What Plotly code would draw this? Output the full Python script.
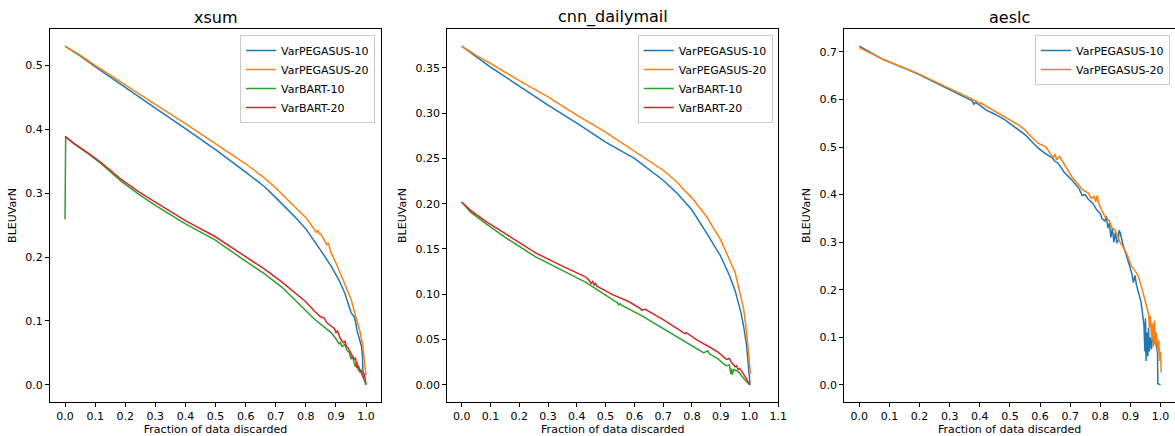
import plotly.graph_objects as go

# ---------------- data ----------------
# xsum
xsum_peg10_x = [0.0, 0.05, 0.1, 0.2, 0.3, 0.4, 0.5, 0.6, 0.663, 0.7, 0.773, 0.8, 0.829, 0.85, 0.884, 0.91, 0.93,
                0.95, 0.96, 0.965, 0.97, 0.975, 0.98, 0.985, 0.988, 0.99, 0.995, 1.0]
xsum_peg10_y = [0.530, 0.515, 0.498, 0.465, 0.433, 0.401, 0.368, 0.333, 0.310, 0.293, 0.2585, 0.244, 0.2247, 0.210,
                0.1857, 0.164, 0.143, 0.113, 0.107, 0.099, 0.085, 0.075, 0.066, 0.060, 0.045, 0.020, 0.016, 0.017]

xsum_peg20_x = [0.0, 0.05, 0.1, 0.2, 0.3, 0.4, 0.5, 0.6, 0.663, 0.7, 0.773, 0.8, 0.829, 0.835, 0.84, 0.845, 0.85,
                0.86, 0.87, 0.875, 0.884, 0.9, 0.915, 0.93, 0.95, 0.96, 0.972, 0.98, 0.989, 0.995, 1.0]
xsum_peg20_y = [0.530, 0.516, 0.500, 0.469, 0.439, 0.409, 0.378, 0.346, 0.3235, 0.308, 0.274, 0.262, 0.243, 0.238,
                0.242, 0.236, 0.236, 0.228, 0.219, 0.221, 0.2065, 0.191, 0.175, 0.157, 0.134, 0.118, 0.097, 0.083,
                0.061, 0.040, 0.015]

xsum_bart10_x = [0.0, 0.002, 0.03, 0.077, 0.12, 0.188, 0.243, 0.3, 0.4, 0.497, 0.58, 0.663, 0.72, 0.773, 0.829,
                 0.884, 0.9, 0.91, 0.915, 0.92, 0.93, 0.935, 0.945, 0.95, 0.955, 0.96, 0.965, 0.97, 0.975, 0.98,
                 0.985, 0.99, 1.0]
xsum_bart10_y = [0.259, 0.388, 0.377, 0.362, 0.346, 0.318, 0.299, 0.281, 0.252, 0.2273, 0.200, 0.1735, 0.153,
                 0.1285, 0.1025, 0.0817, 0.072, 0.064, 0.066, 0.060, 0.063, 0.055, 0.050, 0.040, 0.045, 0.035,
                 0.028, 0.036, 0.022, 0.024, 0.018, 0.015, 0.0]

xsum_bart20_x = [0.0, 0.03, 0.077, 0.12, 0.188, 0.243, 0.3, 0.4, 0.497, 0.58, 0.663, 0.72, 0.773, 0.8, 0.829, 0.85,
                 0.86, 0.87, 0.884, 0.895, 0.9, 0.905, 0.915, 0.925, 0.93, 0.935, 0.94, 0.95, 0.955, 0.96, 0.965,
                 0.97, 0.975, 0.98, 0.985, 0.99, 0.995, 1.0]
xsum_bart20_y = [0.389, 0.378, 0.3625, 0.348, 0.321, 0.3027, 0.286, 0.257, 0.2325, 0.207, 0.181, 0.161, 0.140,
                 0.130, 0.115, 0.106, 0.105, 0.097, 0.092, 0.088, 0.082, 0.084, 0.072, 0.066, 0.068, 0.060, 0.058,
                 0.048, 0.045, 0.040, 0.042, 0.026, 0.030, 0.020, 0.022, 0.012, 0.015, 0.0]

# cnn_dailymail
cnn_peg10_x = [0.0, 0.05, 0.1, 0.2, 0.3, 0.4, 0.48, 0.49, 0.5, 0.6, 0.7, 0.75, 0.8, 0.85, 0.9, 0.93, 0.95, 0.97,
               0.98, 0.99, 0.995, 1.0, 1.002]
cnn_peg10_y = [0.374, 0.362, 0.351, 0.330, 0.309, 0.289, 0.2725, 0.2695, 0.268, 0.250, 0.226, 0.211, 0.193,
               0.168, 0.142, 0.121, 0.104, 0.080, 0.064, 0.043, 0.025, 0.005, 0.0]

cnn_peg20_x = [0.0, 0.05, 0.1, 0.2, 0.3, 0.4, 0.5, 0.58, 0.6, 0.7, 0.75, 0.77, 0.8, 0.85, 0.9, 0.93, 0.95, 0.97,
               0.98, 0.99, 0.995, 1.0, 1.003]
cnn_peg20_y = [0.374, 0.364, 0.355, 0.336, 0.318, 0.298, 0.279, 0.262, 0.2585, 0.237, 0.2235, 0.216, 0.2065,
               0.186, 0.160, 0.139, 0.124, 0.097, 0.083, 0.058, 0.040, 0.014, 0.012]

cnn_bart10_x = [0.0, 0.03, 0.084, 0.15, 0.257, 0.35, 0.43, 0.5225, 0.54, 0.545, 0.55, 0.555, 0.6, 0.638, 0.645,
                0.7, 0.753, 0.8, 0.83, 0.84, 0.845, 0.855, 0.86, 0.8917, 0.91, 0.92, 0.93, 0.935, 0.937, 0.94,
                0.945, 0.95, 0.96, 0.972, 0.985, 1.001]
cnn_bart10_y = [0.2018, 0.191, 0.178, 0.163, 0.1413, 0.126, 0.1134, 0.0943, 0.0907, 0.0885, 0.0895, 0.088, 0.081,
                0.0742, 0.0725, 0.062, 0.0522, 0.0435, 0.0375, 0.0355, 0.036, 0.0375, 0.0345, 0.0283, 0.023,
                0.021, 0.022, 0.012, 0.018, 0.011, 0.017, 0.016, 0.015, 0.0099, 0.005, 0.0]

cnn_bart20_x = [0.0, 0.03, 0.084, 0.15, 0.257, 0.35, 0.43, 0.44, 0.45, 0.455, 0.46, 0.465, 0.47, 0.5225, 0.58,
                0.62, 0.625, 0.638, 0.7, 0.753, 0.77, 0.775, 0.78, 0.8225, 0.86, 0.8917, 0.92, 0.93, 0.9377, 0.95,
                0.955, 0.96, 0.965, 0.972, 0.985, 1.001]
cnn_bart20_y = [0.2018, 0.193, 0.1805, 0.167, 0.1457, 0.131, 0.1193, 0.1165, 0.112, 0.114, 0.110, 0.112, 0.109,
                0.0998, 0.092, 0.0845, 0.0825, 0.0833, 0.072, 0.0613, 0.058, 0.0565, 0.0575, 0.0484, 0.042,
                0.0357, 0.028, 0.029, 0.0246, 0.020, 0.021, 0.017, 0.018, 0.0154, 0.009, 0.0]

# aeslc
aes_peg10_x = [0.0, 0.08, 0.19, 0.3, 0.36, 0.375, 0.38, 0.385, 0.4, 0.42, 0.45, 0.4836, 0.517, 0.55, 0.594, 0.62,
               0.64, 0.6495, 0.66, 0.68, 0.705, 0.73, 0.74, 0.75, 0.76, 0.775, 0.788, 0.8, 0.805, 0.815, 0.82,
               0.825, 0.83, 0.835, 0.84, 0.845, 0.85, 0.855, 0.86, 0.862, 0.866, 0.875, 0.89, 0.904, 0.91, 0.915,
               0.92, 0.926, 0.935, 0.94, 0.945, 0.948, 0.95, 0.952, 0.955, 0.958, 0.96, 0.963, 0.966, 0.97,
               0.974, 0.978, 0.982, 0.986, 0.99, 0.991, 1.0]
aes_peg10_y = [0.712, 0.684, 0.655, 0.620, 0.600, 0.597, 0.590, 0.594, 0.588, 0.578, 0.569, 0.557, 0.5415, 0.526,
               0.4976, 0.485, 0.478, 0.470, 0.466, 0.447, 0.431, 0.412, 0.398, 0.400, 0.390, 0.382, 0.368, 0.360,
               0.350, 0.344, 0.355, 0.330, 0.340, 0.310, 0.330, 0.300, 0.320, 0.298, 0.305, 0.325, 0.320, 0.295,
               0.265, 0.2355, 0.215, 0.230, 0.210, 0.194, 0.175, 0.150, 0.125, 0.070, 0.140, 0.050, 0.110,
               0.060, 0.120, 0.070, 0.100, 0.075, 0.110, 0.085, 0.100, 0.080, 0.070, 0.002, 0.0]

aes_peg20_x = [0.0, 0.08, 0.19, 0.3, 0.378, 0.39, 0.395, 0.4, 0.41, 0.4836, 0.517, 0.53, 0.55, 0.57, 0.594, 0.62,
               0.635, 0.645, 0.65, 0.655, 0.665, 0.675, 0.705, 0.74, 0.76, 0.77, 0.78, 0.785, 0.79, 0.795, 0.815,
               0.83, 0.838, 0.849, 0.865, 0.882, 0.904, 0.915, 0.926, 0.935, 0.948, 0.955, 0.96, 0.963, 0.966,
               0.97, 0.973, 0.976, 0.98, 0.983, 0.986, 0.99, 0.994, 0.997, 1.0, 1.002]
aes_peg20_y = [0.709, 0.684, 0.656, 0.623, 0.599, 0.596, 0.592, 0.594, 0.590, 0.5625, 0.550, 0.546, 0.536, 0.522,
               0.508, 0.500, 0.485, 0.478, 0.485, 0.473, 0.480, 0.470, 0.438, 0.411, 0.403, 0.392, 0.396, 0.385,
               0.398, 0.380, 0.354, 0.345, 0.330, 0.326, 0.300, 0.284, 0.249, 0.240, 0.2285, 0.210, 0.180, 0.165,
               0.150, 0.120, 0.145, 0.100, 0.130, 0.080, 0.135, 0.085, 0.110, 0.070, 0.095, 0.050, 0.070, 0.026]

panel_titles = ["xsum", "cnn_dailymail", "aeslc"]
series_names = ["VarPEGASUS-10", "VarPEGASUS-20", "VarBART-10", "VarBART-20"]
colors = ["#1f77b4", "#ff7f0e", "#2ca02c", "#d62728"]
x_title = "Fraction of data discarded"
y_title = "BLEUVarN"

panels = [
    [(xsum_peg10_x, xsum_peg10_y), (xsum_peg20_x, xsum_peg20_y), (xsum_bart10_x, xsum_bart10_y), (xsum_bart20_x, xsum_bart20_y)],
    [(cnn_peg10_x, cnn_peg10_y), (cnn_peg20_x, cnn_peg20_y), (cnn_bart10_x, cnn_bart10_y), (cnn_bart20_x, cnn_bart20_y)],
    [(aes_peg10_x, aes_peg10_y), (aes_peg20_x, aes_peg20_y)],
]

W, H = 1175, 436
FONT = "DejaVu Sans"

x_domains = [[50 / W, 381 / W], [447.3 / W, 778.3 / W], [844.3 / W, 1.0]]
y_domain = [1 - 401.7 / H, 1 - 29.3 / H]
x_ranges = [[-0.05, 1.0497], [-0.05, 1.1], [-0.05, 1.048]]
y_ranges = [[-0.0265, 0.5565], [-0.0187, 0.3927], [-0.0356, 0.7476]]
y_dticks = [0.1, 0.05, 0.1]
y_formats = [".1f", ".2f", ".1f"]
legend_x = [375 / W, 772.7 / W, 1170 / W]

fig = go.Figure()
for p, series in enumerate(panels):
    suffix = "" if p == 0 else str(p + 1)
    for s, (xs, ys) in enumerate(series):
        fig.add_trace(go.Scatter(
            x=xs, y=ys, mode="lines", name=series_names[s],
            line=dict(color=colors[s], width=1.5),
            xaxis="x" + suffix, yaxis="y" + suffix,
            legend="legend" + suffix, showlegend=True,
        ))

layout = dict(
    width=W, height=H,
    margin=dict(l=0, r=0, t=0, b=0),
    paper_bgcolor="white", plot_bgcolor="white",
    font=dict(family=FONT, size=11, color="black"),
    annotations=[],
)
for p in range(3):
    suffix = "" if p == 0 else str(p + 1)
    layout["xaxis" + suffix] = dict(
        domain=x_domains[p], range=x_ranges[p], anchor="y" + suffix,
        tickmode="linear", tick0=0, dtick=0.1, tickformat=".1f",
        showline=True, mirror=True, linecolor="black", linewidth=1,
        ticks="outside", ticklen=4, tickwidth=1, tickcolor="black",
        showgrid=False, zeroline=False, automargin=False,
        tickfont=dict(family=FONT, size=11, color="black"),
        title=dict(text=x_title, standoff=3, font=dict(family=FONT, size=11, color="black")),
    )
    layout["yaxis" + suffix] = dict(
        domain=y_domain, range=y_ranges[p], anchor="x" + suffix,
        tickmode="linear", tick0=0, dtick=y_dticks[p], tickformat=y_formats[p],
        showline=True, mirror=True, linecolor="black", linewidth=1,
        ticks="outside", ticklen=4, tickwidth=1, tickcolor="black",
        showgrid=False, zeroline=False, automargin=False,
        tickfont=dict(family=FONT, size=11, color="black"),
        title=dict(text=y_title, standoff=6, font=dict(family=FONT, size=11, color="black")),
    )
    layout["legend" + suffix] = dict(
        x=legend_x[p], y=1 - 35 / H, xanchor="right", yanchor="top",
        bgcolor="rgba(255,255,255,0.8)", bordercolor="#cccccc", borderwidth=1,
        font=dict(family=FONT, size=11, color="black"),
        tracegroupgap=0, itemwidth=30,
    )
    layout["annotations"].append(dict(
        text=panel_titles[p], xref="paper", yref="paper",
        x=(x_domains[p][0] + x_domains[p][1]) / 2, y=1 - 17 / H,
        xanchor="center", yanchor="middle", showarrow=False,
        font=dict(family=FONT, size=16, color="black"),
    ))

fig.update_layout(**layout)
fig.write_html(
    "out.html",
    config={"displayModeBar": False},
    post_script="document.body.style.margin='0';document.body.style.padding='0';document.body.style.overflow='hidden';",
)
